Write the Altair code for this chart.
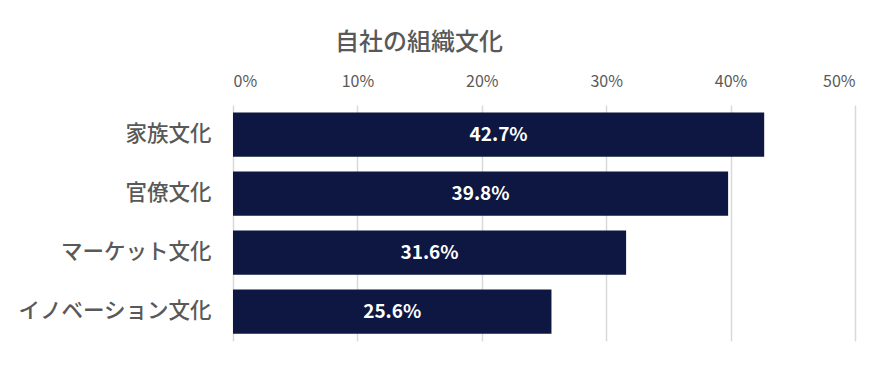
import altair as alt
import pandas as pd

categories = ["家族文化", "官僚文化", "マーケット文化", "イノベーション文化"]
values = [42.7, 39.8, 31.6, 25.6]
labels = ["42.7%", "39.8%", "31.6%", "25.6%"]

df = pd.DataFrame({"cat": categories, "val": values, "label": labels})

FONT = "Noto Sans CJK JP"
GRAY = "#595959"

base = alt.Chart(df).encode(
    y=alt.Y("cat:N", sort=categories, title=None,
            scale=alt.Scale(paddingInner=0.25, paddingOuter=0.125),
            axis=alt.Axis(labelFont=FONT, labelFontSize=21.5, labelColor=GRAY,
                          labelPadding=22, ticks=False, domain=False,
                          labelLimit=400, labelFontWeight=500)),
)

bars = base.mark_bar(color="#0d1742").encode(
    x=alt.X("val:Q", title=None,
            scale=alt.Scale(domain=[0, 50]),
            axis=alt.Axis(orient="top", values=[0, 10, 20, 30, 40, 50],
                          labelExpr="datum.value + '%'",
                          labelFont=FONT, labelFontSize=16, labelColor=GRAY,
                          labelPadding=16, ticks=False, domain=False,
                          grid=True, gridColor="#d9d9d9", gridWidth=1.5)),
)

text = base.mark_text(color="white", font=FONT, fontSize=19, fontWeight="bold").encode(
    x=alt.X("mid:Q"),
    text="label:N",
).transform_calculate(mid="datum.val / 2")

chart = (bars + text).properties(
    width=622, height=236,
    autosize=alt.AutoSizeParams(type="none"),
    padding={"left": 225, "top": 97, "right": 30, "bottom": 20},
    title=alt.TitleParams("自社の組織文化", font=FONT, fontSize=24, color=GRAY,
                          fontWeight=500, anchor="start", frame="group",
                          dx=102, offset=18),
).configure_view(stroke=None)

chart.save("out.html", embed_options={"renderer": "svg", "actions": False})
